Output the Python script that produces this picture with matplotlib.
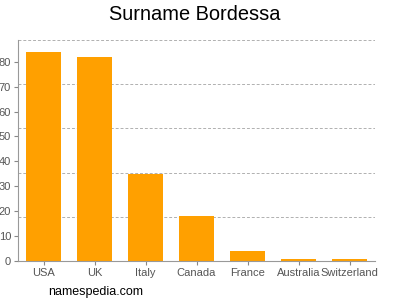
import numpy as np
import matplotlib
matplotlib.use('Agg')
import matplotlib.pyplot as plt

countries = ['USA', 'UK', 'Italy', 'Canada', 'France', 'Australia', 'Switzerland']
counts = [84, 82, 35, 18, 4, 1, 1]
y_ticks = [0, 10, 20, 30, 40, 50, 60, 70, 80]

plt.rcParams['font.family'] = ['Liberation Sans', 'DejaVu Sans']

fig = plt.figure(figsize=(4, 3), dpi=100)
ax = fig.add_axes([0.045, 0.13, 0.8925, 0.7367])

x = np.arange(len(countries))
ax.bar(x, counts, width=0.686, color='#FFA000', zorder=2)

ymax = 88.7
ax.set_xlim(-0.5, len(countries) - 0.5)
ax.set_ylim(0, ymax)

# grid lines split the plot area into five bands
for g in np.linspace(0, ymax, 6)[1:]:
    ax.axhline(g, color='#b0b0b0', linestyle=(0, (3, 2)), linewidth=0.7, zorder=1)

ax.set_xticks(x)
ax.set_xticklabels(countries)
ax.set_yticks(y_ticks)
ax.tick_params(axis='both', colors='#888888', labelcolor='#555555', labelsize=8, length=3, width=0.8, pad=2)

for side in ['top', 'right']:
    ax.spines[side].set_visible(False)
for side in ['left', 'bottom']:
    ax.spines[side].set_color('#999999')
    ax.spines[side].set_linewidth(0.8)

fig.text(0.4875, 0.95, 'Surname Bordessa', ha='center', va='center', fontsize=14.4, color='#000000')
fig.text(0.12, 0.027, 'namespedia.com', ha='left', va='center', fontsize=9, color='#000000')

fig.savefig('out.png', dpi=100)
